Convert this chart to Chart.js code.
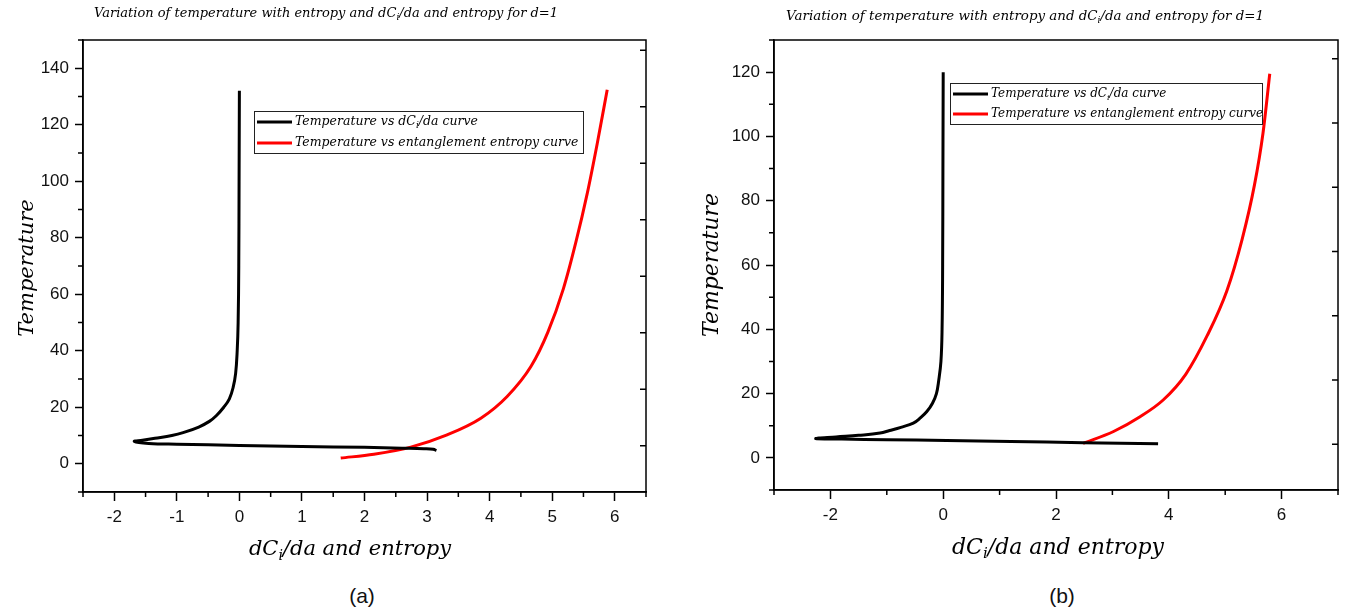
<!DOCTYPE html>
<html>
<head>
<meta charset="utf-8">
<script src="https://cdn.jsdelivr.net/npm/chart.js@4.4.1/dist/chart.umd.min.js"></script>
<style>
  body { margin: 0; background: #fff; width: 1348px; height: 616px; overflow: hidden; position: relative; }
  canvas { position: absolute; top: 0; }
  #c1 { left: 0; }
  #c2 { left: 674px; }
  .cap { position: absolute; top: 584px; font: 21px "Liberation Sans", Arial, sans-serif; color: #111; transform: translateX(-50%); }
</style>
</head>
<body>
<canvas id="c1" width="674" height="580"></canvas>
<canvas id="c2" width="674" height="580"></canvas>
<div class="cap" style="left:362px">(a)</div>
<div class="cap" style="left:1062px">(b)</div>
<script>
// ---- panel (a) ----
const xTicksA = [-2, -1, 0, 1, 2, 3, 4, 5, 6];
const xMinorA = [-2.5, -1.5, -0.5, 0.5, 1.5, 2.5, 3.5, 4.5, 5.5, 6.5];
const yTicksA = [0, 20, 40, 60, 80, 100, 120, 140];
const yMinorA = [-10, 10, 30, 50, 70, 90, 110, 130, 150];
const yRightA = [6.4, 26.4, 46.4, 66.4, 86.4, 106.4, 126.4, 146.4];

const blackAx = [0, -0.005, -0.01, -0.02, -0.035, -0.06, -0.1, -0.16, -0.25, -0.37, -0.48, -0.65, -0.9, -1.08, -1.35, -1.55, -1.68, -1.45, -1.0, 0, 1, 2, 2.6, 2.95, 3.1, 3.15];
const blackAy = [132, 100, 70, 50, 40, 32, 27, 23, 20, 17, 15, 13, 11, 10, 9, 8.3, 7.9, 7.2, 6.9, 6.5, 6.1, 5.8, 5.5, 5.3, 5.1, 4.7];
const redAx = [1.62, 2.15, 2.74, 3.32, 3.86, 4.28, 4.66, 4.93, 5.18, 5.38, 5.56, 5.72, 5.88];
const redAy = [2.0, 3.4, 5.9, 10.2, 16.1, 23.8, 34.4, 46.5, 62.0, 78.5, 95.6, 113.3, 132.4];

// ---- panel (b) ----
const xTicksB = [-2, 0, 2, 4, 6];
const xMinorB = [-3, -1, 1, 3, 5, 7];
const yTicksB = [0, 20, 40, 60, 80, 100, 120];
const yMinorB = [-10, 10, 30, 50, 70, 90, 110, 130];
const yRightB = [4.2, 24.2, 44.2, 64.2, 84.2, 104.2, 124.2];

const blackBx = [0, -0.005, -0.01, -0.02, -0.04, -0.08, -0.12, -0.19, -0.29, -0.4, -0.53, -0.75, -0.95, -1.12, -1.5, -1.9, -2.26, -1.8, -1.0, 0.06, 1.2, 2.48, 3.81];
const blackBy = [120, 90, 60, 40, 30, 24, 20, 17, 14.4, 12.5, 10.8, 9.5, 8.5, 7.7, 7.0, 6.5, 6.0, 5.85, 5.65, 5.4, 5.1, 4.7, 4.4];
const redBx = [2.48, 3.02, 3.49, 3.90, 4.3, 4.68, 5.03, 5.30, 5.52, 5.67, 5.79];
const redBy = [4.5, 8.2, 12.8, 18, 26, 38, 52, 68, 85, 101, 119.5];

const titleText = 'Variation of temperature with entropy and dC_i/da and entropy for d=1';
const label1 = 'Temperature vs dC_i/da curve';
const label2 = 'Temperature vs entanglement entropy curve';

function pts(xs, ys) {
    return xs.map((x, i) => ({ x: x, y: ys[i] }));
}

// draws text with "_i" as subscript
function richText(ctx, str, x, y, size, align) {
    const parts = str.split(/_(\w)/);
    const big = 'italic ' + size + 'px "DejaVu Serif"';
    const small = 'italic ' + Math.round(size * 0.68) + 'px "DejaVu Serif"';
    let w = 0;
    parts.forEach((p, i) => {
        ctx.font = i % 2 ? small : big;
        w += ctx.measureText(p).width;
    });
    let cx = align === 'center' ? x - w / 2 : x;
    ctx.textBaseline = 'middle';
    ctx.textAlign = 'left';
    ctx.fillStyle = '#000';
    parts.forEach((p, i) => {
        ctx.font = i % 2 ? small : big;
        ctx.fillText(p, cx, i % 2 ? y + size * 0.3 : y);
        cx += ctx.measureText(p).width;
    });
}

const extras = {
    id: 'extras',
    afterDraw(chart, args, o) {
        const ctx = chart.ctx;
        const a = chart.chartArea;
        const xs = chart.scales.x, ys = chart.scales.y;
        ctx.save();
        // frame
        ctx.strokeStyle = '#000';
        ctx.lineWidth = 1.5;
        ctx.strokeRect(a.left, a.top, a.right - a.left, a.bottom - a.top);
        // minor ticks
        ctx.beginPath();
        o.minorX.forEach(v => {
            const px = xs.getPixelForValue(v);
            ctx.moveTo(px, a.bottom); ctx.lineTo(px, a.bottom + 5);
        });
        o.minorY.forEach(v => {
            const py = ys.getPixelForValue(v);
            ctx.moveTo(a.left, py); ctx.lineTo(a.left - 5, py);
        });
        o.rightTicks.forEach(v => {
            const py = ys.getPixelForValue(v);
            ctx.moveTo(a.right, py); ctx.lineTo(a.right - 6, py);
        });
        ctx.stroke();

        // legend box
        const L = o.legend;
        ctx.fillStyle = '#fff';
        ctx.fillRect(L.x, L.y, L.w, L.h);
        ctx.lineWidth = 1;
        ctx.strokeStyle = '#222';
        ctx.strokeRect(L.x + 0.5, L.y + 0.5, L.w, L.h);
        chart.data.datasets.forEach((ds, i) => {
            const ry = L.y + L.row0 + i * L.gap;
            ctx.beginPath();
            ctx.strokeStyle = ds.borderColor;
            ctx.lineWidth = 3;
            ctx.moveTo(L.x + 3, ry); ctx.lineTo(L.x + 38, ry);
            ctx.stroke();
            richText(ctx, ds.label, L.x + 41, ry, L.size, 'left');
        });

        // titles
        richText(ctx, titleText, o.title.x, o.title.y, o.title.size, 'center');
        richText(ctx, o.xTitle, o.xT.x, o.xT.y, o.xT.size, 'center');
        ctx.translate(o.yT.x, o.yT.y);
        ctx.rotate(-Math.PI / 2);
        richText(ctx, o.yTitle, 0, 0, o.yT.size, 'center');
        ctx.restore();
    }
};

function makeChart(id, p) {
    const tickFont = { family: 'Liberation Sans', size: 17 };
    return new Chart(document.getElementById(id).getContext('2d'), {
        type: 'scatter',
        data: {
            datasets: [{
                label: label1,
                data: pts(p.bx, p.by),
                showLine: true,
                borderColor: '#000',
                borderWidth: 3,
                pointRadius: 0,
                tension: 0.4
            }, {
                label: label2,
                data: pts(p.rx, p.ry),
                showLine: true,
                borderColor: '#ff0000',
                borderWidth: 3,
                pointRadius: 0,
                cubicInterpolationMode: 'monotone'
            }]
        },
        options: {
            responsive: false,
            animation: false,
            devicePixelRatio: 1,
            layout: { padding: { top: 40, right: p.padRight, bottom: 0, left: 0 } },
            plugins: {
                legend: { display: false },
                tooltip: { enabled: false },
                extras: p.extras
            },
            scales: {
                x: {
                    type: 'linear',
                    position: 'bottom',
                    min: p.xMin,
                    max: p.xMax,
                    afterBuildTicks: s => { s.ticks = p.xTicks.map(v => ({ value: v })); },
                    afterFit: s => { s.height = p.xHeight; },
                    ticks: { font: tickFont, color: '#111', padding: 6, maxRotation: 0, autoSkip: false },
                    grid: { drawOnChartArea: false, drawTicks: true, tickLength: 9, tickColor: '#000', tickWidth: 1.5 },
                    border: { display: true, color: '#000', width: 1.5 }
                },
                y: {
                    type: 'linear',
                    min: p.yMin,
                    max: p.yMax,
                    afterBuildTicks: s => { s.ticks = p.yTicks.map(v => ({ value: v })); },
                    afterFit: s => { s.width = p.yWidth; },
                    ticks: { font: tickFont, color: '#111', padding: 6, autoSkip: false },
                    grid: { drawOnChartArea: false, drawTicks: true, tickLength: 8, tickColor: '#000', tickWidth: 1.5 },
                    border: { display: true, color: '#000', width: 1.5 }
                }
            }
        },
        plugins: [extras]
    });
}

makeChart('c1', {
    bx: blackAx, by: blackAy, rx: redAx, ry: redAy,
    xMin: -2.5, xMax: 6.5, yMin: -10, yMax: 150,
    xTicks: xTicksA, yTicks: yTicksA,
    padRight: 28, xHeight: 88, yWidth: 83,
    extras: {
        minorX: xMinorA, minorY: yMinorA, rightTicks: yRightA,
        legend: { x: 254, y: 111, w: 329, h: 42, row0: 11, gap: 21, size: 12.5 },
        title: { x: 326, y: 14, size: 13 },
        xTitle: 'dC_i/da and entropy', xT: { x: 350, y: 550, size: 21 },
        yTitle: 'Temperature', yT: { x: 28, y: 268, size: 21 }
    }
});

makeChart('c2', {
    bx: blackBx, by: blackBy, rx: redBx, ry: redBy,
    xMin: -3, xMax: 7, yMin: -10, yMax: 130,
    xTicks: xTicksB, yTicks: yTicksB,
    padRight: 10, xHeight: 90, yWidth: 100,
    extras: {
        minorX: xMinorB, minorY: yMinorB, rightTicks: yRightB,
        legend: { x: 276, y: 83, w: 312, h: 41, row0: 11, gap: 20, size: 12 },
        title: { x: 351, y: 17, size: 13.4 },
        xTitle: 'dC_i/da and entropy', xT: { x: 384, y: 548, size: 22 },
        yTitle: 'Temperature', yT: { x: 38, y: 265, size: 22 }
    }
});
</script>
</body>
</html>
